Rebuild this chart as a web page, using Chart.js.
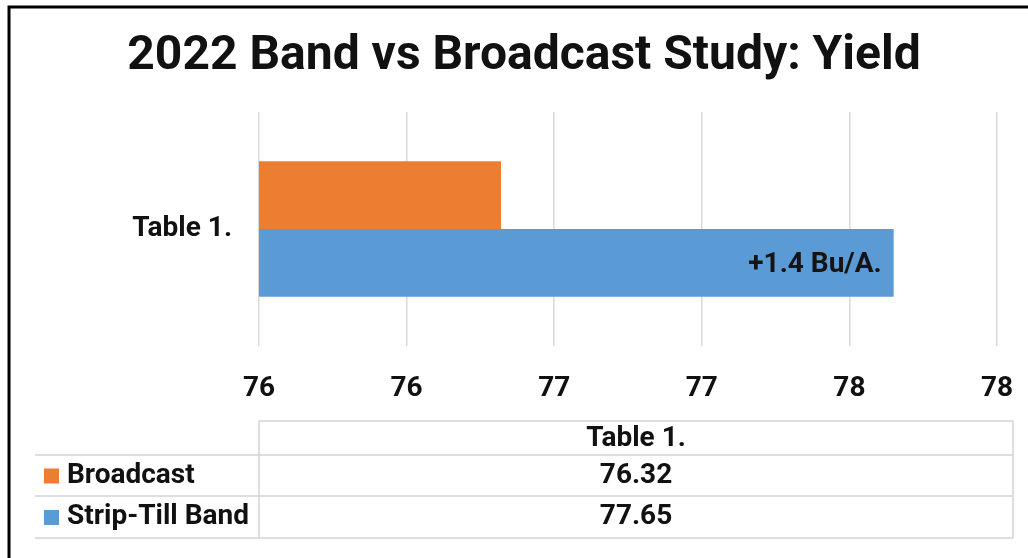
<!DOCTYPE html>
<html>
<head>
<meta charset="utf-8">
<script src="https://cdn.jsdelivr.net/npm/chart.js@4"></script>
<style>
  html, body { margin: 0; padding: 0; background: #fff; }
  #wrap { width: 1028px; height: 558px; position: relative; }
</style>
</head>
<body>
<div id="wrap"><canvas id="yieldChart"></canvas></div>
<script>
// chart data
const categories = ["Table 1."];
const seriesNames = ["Broadcast", "Strip-Till Band"];
const broadcastYield = [76.32];
const stripTillYield = [77.65];
const seriesColors = ["#ED7D31", "#5B9BD5"];
const xMin = 75.5, xMax = 78, xStep = 0.5;
const diffLabel = "+1.4 Bu/A.";

const FONT = "Roboto, 'Noto Sans', sans-serif";

// black frame on top and left, like the cropped screenshot
const framePlugin = {
    id: "frame",
    beforeDraw(chart) {
        const ctx = chart.ctx;
        ctx.save();
        ctx.fillStyle = "#fff";
        ctx.fillRect(0, 0, chart.width, chart.height);
        ctx.strokeStyle = "#000";
        ctx.lineWidth = 3;
        ctx.beginPath();
        ctx.moveTo(9, chart.height);
        ctx.lineTo(9, 7);
        ctx.lineTo(chart.width, 7);
        ctx.stroke();
        ctx.restore();
    }
};

// difference label inside the strip-till bar
const barLabelPlugin = {
    id: "barLabel",
    afterDatasetsDraw(chart) {
        const bar = chart.getDatasetMeta(1).data[0];
        if (!bar) return;
        const ctx = chart.ctx;
        ctx.save();
        ctx.font = "bold 28px " + FONT;
        ctx.fillStyle = "#141414";
        ctx.textAlign = "right";
        ctx.textBaseline = "middle";
        ctx.fillText(diffLabel, bar.x - 12, bar.y + 2);
        ctx.restore();
    }
};

// Excel style data table under the x axis
const dataTablePlugin = {
    id: "dataTable",
    afterDraw(chart) {
        const ctx = chart.ctx;
        const area = chart.chartArea;
        const left = 35, mid = area.left, right = 1013;
        const rows = [421, 455, 496, 538];
        ctx.save();
        ctx.strokeStyle = "#d4d4d4";
        ctx.lineWidth = 1.5;
        ctx.beginPath();
        ctx.moveTo(mid, rows[0]); ctx.lineTo(right, rows[0]);
        for (let i = 1; i < rows.length; i++) {
            ctx.moveTo(left, rows[i]); ctx.lineTo(right, rows[i]);
        }
        ctx.moveTo(mid, rows[0]); ctx.lineTo(mid, rows[3]);
        ctx.moveTo(right, rows[0]); ctx.lineTo(right, rows[3]);
        ctx.stroke();

        ctx.font = "bold 28px " + FONT;
        ctx.fillStyle = "#111";
        ctx.textBaseline = "middle";
        ctx.textAlign = "center";
        const cx = (mid + right) / 2;
        ctx.fillText(chart.data.labels[0], cx, (rows[0] + rows[1]) / 2 + 1);

        chart.data.datasets.forEach((ds, i) => {
            const cy = (rows[i + 1] + rows[i + 2]) / 2;
            ctx.textAlign = "center";
            ctx.fillStyle = "#111";
            ctx.fillText(ds.data[0].toFixed(2), cx, cy);
            ctx.fillStyle = ds.backgroundColor;
            ctx.fillRect(44, cy - 7, 15, 15);
            ctx.fillStyle = "#111";
            ctx.textAlign = "left";
            ctx.fillText(ds.label, 67, cy);
        });
        ctx.restore();
    }
};

const ctx = document.getElementById("yieldChart").getContext("2d");
new Chart(ctx, {
    type: "bar",
    data: {
        labels: categories,
        datasets: [
            { label: seriesNames[0], data: broadcastYield, backgroundColor: seriesColors[0] },
            { label: seriesNames[1], data: stripTillYield, backgroundColor: seriesColors[1] }
        ]
    },
    options: {
        indexAxis: "y",
        responsive: true,
        maintainAspectRatio: false,
        animation: false,
        layout: { padding: { left: 20, right: 0, top: 0, bottom: 0 } },
        datasets: { bar: { categoryPercentage: 0.58, barPercentage: 1 } },
        plugins: {
            legend: { display: false },
            tooltip: { enabled: false },
            title: {
                display: true,
                text: "2022 Band vs Broadcast Study: Yield",
                color: "#111",
                font: { family: FONT, size: 48, weight: "bold", lineHeight: 1.2 },
                padding: { top: 28, bottom: 26.4 }
            }
        },
        scales: {
            x: {
                min: xMin, max: xMax,
                afterFit(scale) {
                    scale.height = 212;
                    scale.paddingLeft = 0;
                    scale.paddingRight = 31;
                },
                border: { display: false },
                grid: { color: "#d9d9d9", lineWidth: 1.5, drawTicks: false },
                ticks: {
                    stepSize: xStep,
                    padding: 26,
                    color: "#111",
                    font: { family: FONT, size: 28, weight: "bold" },
                    callback: v => Math.round(v).toString()
                }
            },
            y: {
                afterFit(scale) { scale.width = 239; },
                border: { display: false },
                grid: { display: false, drawTicks: false },
                ticks: {
                    padding: 27,
                    color: "#111",
                    font: { family: FONT, size: 28, weight: "bold" }
                }
            }
        }
    },
    plugins: [framePlugin, barLabelPlugin, dataTablePlugin]
});
</script>
</body>
</html>
